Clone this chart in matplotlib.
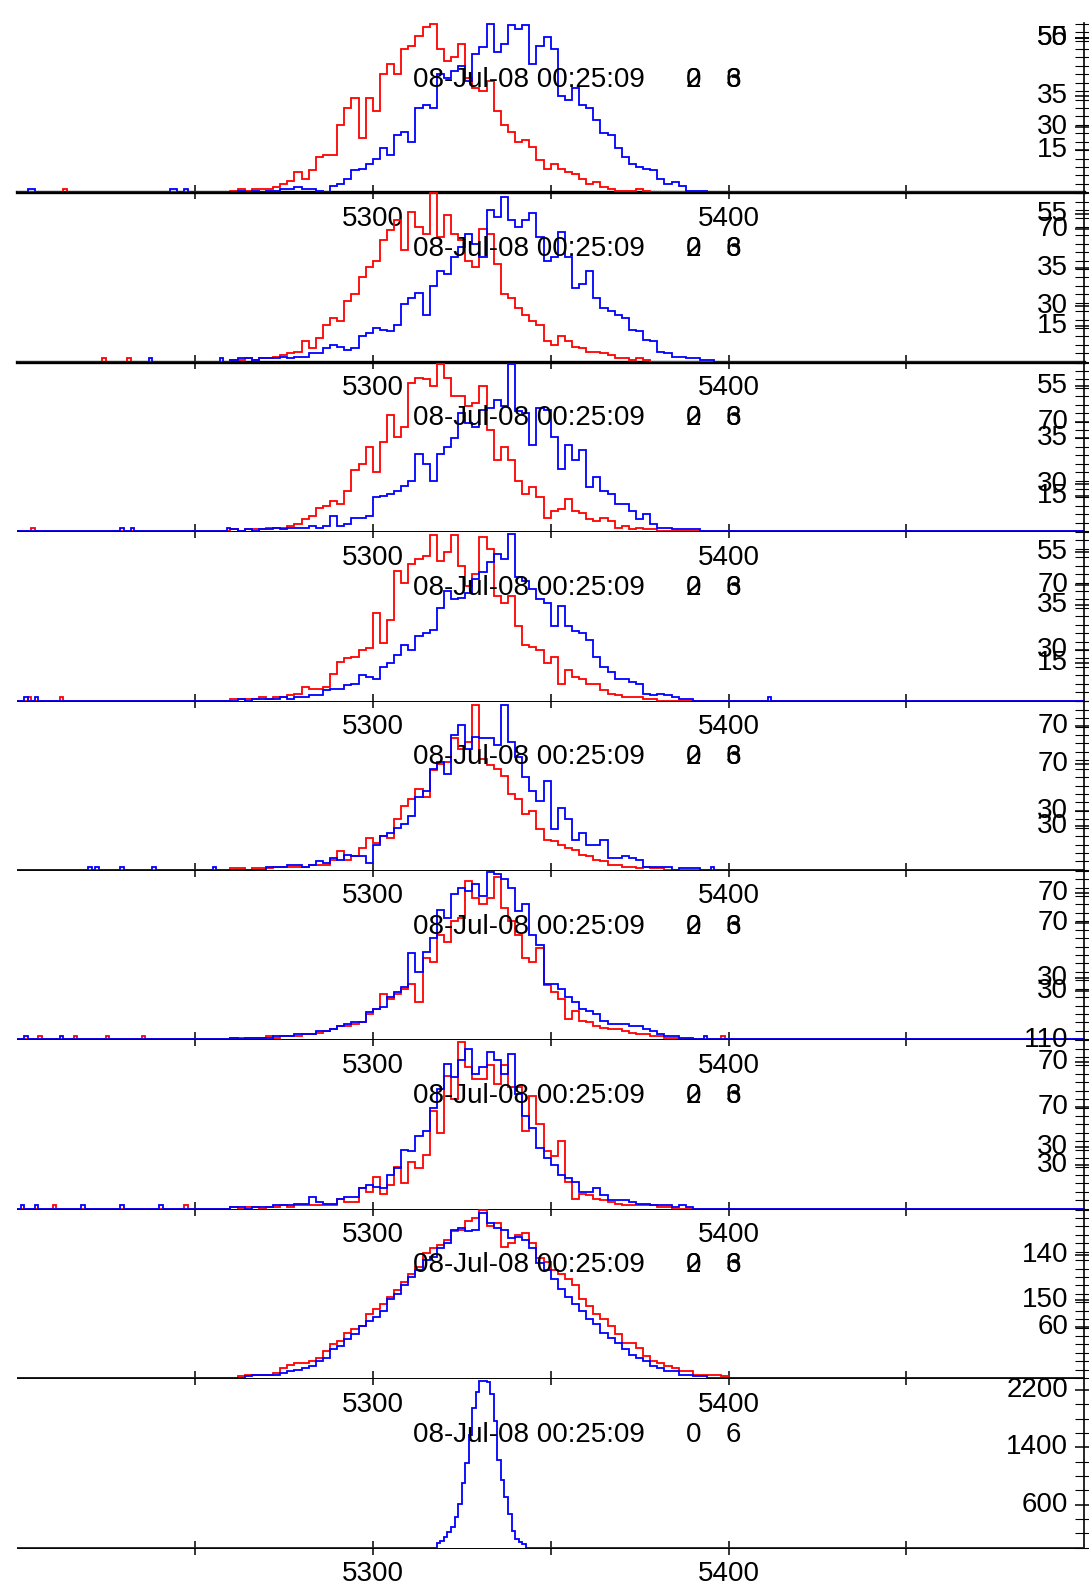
import numpy as np
import matplotlib
matplotlib.use("Agg")
from matplotlib import pyplot as plt
from matplotlib.ticker import MultipleLocator

plt.rcParams['font.family'] = ['Liberation Sans', 'DejaVu Sans']

# x range of every panel and bin layout of the histograms
x_min, x_max = 5200, 5500
main_start = 5260      # first bin of the main histogram arrays
main_width = 2         # width of the main bins
x_ticks = [5250, 5300, 5350, 5400, 5450]
x_tick_labels = ['', '5300', '', '5400', '']

stamp = "08-Jul-08 00:25:09"
stamp_a = "0"
stamp_b = "6"

# panels 1-8 (counts on a 0..100 scale), 2-unit bins starting at 5260
red_1 = [1, 2, 1, 2, 2, 2, 3, 5, 7, 12, 8, 13, 21, 22, 22, 40, 50, 56, 32, 56, 48, 70, 76, 70, 85, 87, 93, 98,
         100, 85, 78, 80, 88, 68, 62, 60, 66, 48, 40, 36, 30, 31, 27, 19, 14, 17, 14, 12, 11, 8, 5, 6, 3, 2, 1,
         1, 1, 2, 1]
blue_1 = [0, 1, 0, 1, 0, 1, 1, 2, 2, 3, 2, 2, 1, 0, 4, 5, 8, 13, 14, 17, 20, 26, 22, 34, 36, 30, 50, 52, 50, 70,
          68, 72, 75, 66, 82, 86, 100, 83, 88, 99, 97, 99, 76, 87, 92, 85, 57, 55, 62, 52, 50, 43, 35, 34, 26,
          21, 17, 15, 14, 13, 8, 5, 6, 4, 1, 1, 1]
red_2 = [1, 1, 2, 1, 2, 2, 3, 4, 5, 6, 12, 8, 14, 22, 26, 24, 36, 40, 50, 56, 60, 72, 78, 84, 66, 89, 80, 76, 100,
         74, 87, 76, 72, 60, 56, 79, 76, 58, 40, 38, 32, 28, 24, 22, 12, 10, 15, 12, 9, 8, 6, 6, 5, 4, 2, 2, 1,
         2, 1]
blue_2 = [1, 2, 2, 1, 2, 2, 2, 3, 2, 3, 3, 5, 5, 8, 10, 9, 7, 8, 15, 17, 20, 19, 18, 22, 34, 38, 41, 28, 45, 54,
          52, 62, 68, 76, 70, 62, 90, 86, 98, 84, 80, 84, 88, 74, 60, 62, 77, 62, 44, 46, 54, 38, 32, 30, 28, 26,
          19, 18, 13, 12, 6, 5, 3, 3, 2, 2, 1, 1]
red_3 = [1, 0, 1, 1, 1, 2, 2, 2, 3, 4, 7, 9, 14, 15, 18, 16, 24, 36, 40, 50, 35, 53, 69, 56, 62, 88, 91, 90, 86,
         99, 91, 80, 80, 74, 76, 86, 60, 42, 50, 42, 30, 22, 26, 20, 8, 12, 13, 19, 12, 11, 7, 6, 8, 6, 2, 3, 1,
         2, 1, 1]
blue_3 = [1, 0, 1, 0, 1, 1, 2, 1, 2, 2, 2, 3, 2, 3, 9, 3, 4, 8, 8, 9, 20, 21, 22, 24, 27, 30, 46, 40, 30, 46, 50,
          55, 70, 64, 62, 72, 73, 78, 74, 99, 71, 70, 51, 73, 72, 56, 37, 51, 42, 48, 26, 32, 24, 22, 16, 16, 12,
          7, 10, 4, 2, 2, 1, 1, 1, 1]
red_4 = [1, 1, 1, 1, 2, 1, 2, 2, 3, 4, 8, 7, 7, 8, 16, 23, 25, 26, 30, 31, 52, 34, 48, 77, 70, 81, 84, 86, 98, 83,
         88, 98, 80, 68, 75, 97, 90, 62, 58, 62, 44, 33, 32, 30, 22, 26, 10, 18, 14, 13, 10, 10, 6, 4, 3, 2, 2,
         2, 1, 1]
blue_4 = [0, 1, 0, 1, 1, 1, 1, 2, 1, 2, 2, 3, 3, 6, 7, 7, 9, 10, 15, 14, 13, 20, 22, 27, 33, 30, 38, 40, 42, 55,
          65, 60, 61, 64, 72, 76, 82, 87, 84, 99, 73, 71, 66, 60, 58, 44, 56, 44, 41, 40, 36, 26, 20, 17, 13, 13,
          11, 10, 4, 3, 4, 3, 2, 1, 1]
red_5 = [1, 1, 0, 1, 1, 1, 2, 2, 2, 2, 2, 3, 3, 3, 6, 11, 6, 8, 13, 19, 16, 20, 19, 30, 38, 42, 48, 43, 59, 63,
         64, 78, 72, 76, 98, 66, 62, 60, 56, 45, 42, 33, 35, 24, 18, 17, 15, 13, 12, 9, 8, 6, 5, 3, 3, 2, 2, 1,
         2, 1, 1]
blue_5 = [0, 0, 0, 0, 0, 2, 2, 2, 3, 3, 2, 3, 5, 4, 7, 6, 9, 8, 8, 4, 15, 20, 22, 25, 27, 32, 43, 47, 60, 64, 57,
          80, 86, 72, 79, 78, 78, 74, 98, 76, 67, 55, 47, 41, 53, 24, 37, 30, 18, 22, 15, 15, 18, 7, 7, 8, 7, 6,
          2, 2, 2, 2, 0, 1, 1, 1]
red_6 = [1, 1, 1, 1, 1, 2, 1, 2, 2, 2, 3, 3, 4, 5, 6, 8, 8, 9, 10, 15, 18, 27, 24, 27, 30, 33, 22, 48, 46, 62,
         58, 70, 72, 94, 84, 80, 84, 96, 78, 70, 62, 48, 46, 54, 32, 28, 24, 12, 17, 11, 10, 8, 7, 6, 6, 5, 4,
         3, 3, 2, 2, 1, 1]
blue_6 = [1, 0, 1, 1, 1, 1, 2, 2, 2, 3, 3, 3, 5, 5, 6, 8, 9, 10, 10, 16, 18, 19, 25, 28, 31, 51, 40, 52, 60, 77,
          72, 86, 90, 88, 92, 85, 99, 98, 95, 90, 76, 80, 62, 56, 33, 33, 30, 25, 22, 18, 17, 15, 11, 9, 9, 9, 8,
          8, 6, 5, 3, 2, 2, 1, 1]
red_7 = [1, 0, 1, 1, 0, 1, 1, 2, 1, 2, 2, 2, 2, 2, 2, 6, 4, 4, 12, 10, 19, 9, 14, 25, 15, 28, 24, 32, 58, 45, 79,
         65, 99, 84, 77, 77, 85, 74, 85, 72, 72, 46, 67, 50, 34, 31, 40, 16, 6, 9, 8, 6, 5, 4, 3, 2, 2, 2, 2, 2,
         1, 1]
blue_7 = [1, 1, 0, 1, 1, 1, 2, 2, 2, 3, 3, 7, 4, 3, 3, 6, 7, 7, 12, 14, 13, 12, 20, 24, 35, 34, 43, 46, 60, 71,
          86, 78, 88, 95, 80, 84, 93, 88, 80, 92, 68, 55, 48, 36, 30, 26, 20, 18, 16, 10, 10, 12, 8, 5, 5, 5, 4,
          3, 3, 2, 2, 2, 1, 2, 1]
red_8 = [0, 1, 2, 2, 2, 2, 3, 6, 8, 9, 9, 10, 12, 16, 20, 22, 27, 29, 31, 38, 41, 44, 48, 52, 57, 62, 66, 74, 77,
         79, 82, 87, 88, 93, 95, 100, 90, 92, 78, 80, 85, 86, 80, 71, 69, 64, 62, 59, 55, 47, 43, 38, 35, 31,
         26, 21, 21, 18, 13, 10, 9, 7, 6, 4, 4, 2, 2, 2, 2, 1]
blue_8 = [0, 0, 1, 2, 2, 2, 2, 3, 4, 5, 6, 7, 10, 12, 17, 19, 23, 26, 31, 34, 36, 40, 47, 50, 55, 60, 64, 70, 72,
          77, 80, 88, 89, 87, 88, 98, 92, 89, 88, 83, 84, 82, 77, 68, 64, 59, 53, 48, 44, 40, 35, 32, 27, 24,
          21, 17, 14, 12, 10, 7, 6, 4, 4, 2, 2, 1, 1]

# bottom panel: real counts, 1-unit bins starting at 5318
p9_start = 5318
red_9 = []
blue_9 = [57, 94, 148, 212, 283, 424, 612, 895, 1178, 1578, 1955, 2167, 2331, 2331, 2308, 2143, 1766, 1225, 942,
          707, 471, 236, 118, 71, 47]

# single stray counts (1-unit bins) far out in the tails
red_strays = [[5213], [5224, 5231], [5204], [5203, 5212], [], [5206, 5216, 5225, 5235, 5398], [5210, 5247], [], []]
blue_strays = [[5203, 5204, 5243, 5244, 5247], [5237, 5257], [5229, 5232, 5259], [5202, 5205, 5411],
               [5220, 5222, 5229, 5238, 5255, 5395], [5202, 5212, 5393], [5201, 5205, 5218, 5229, 5240], [], []]
stray_count = 2

red_all = [red_1, red_2, red_3, red_4, red_5, red_6, red_7, red_8, red_9]
blue_all = [blue_1, blue_2, blue_3, blue_4, blue_5, blue_6, blue_7, blue_8, blue_9]
y_tops = [100, 100, 100, 100, 100, 100, 100, 100, 2355]

# right-hand tick labels as printed (two scales overprint each other)
right_labels = [
    [("50", 91.8), ("55", 91.8), ("35", 57.4), ("30", 38.7), ("15", 24.9)],
    [("55", 87.4), ("70", 78.5), ("35", 55.8), ("30", 33.3), ("15", 21.4)],
    [("55", 85.8), ("70", 64.8), ("35", 55.3), ("30", 27.7), ("15", 20.8)],
    [("55", 88.2), ("70", 68.5), ("35", 56.7), ("30", 30.2), ("15", 22.3)],
    [("70", 85.2), ("70", 62.6), ("30", 35.1), ("30", 26.2)],
    [("70", 86.6), ("70", 68.9), ("30", 36.4), ("30", 28.6)],
    [("110", 99.8), ("70", 87.0), ("70", 60.4), ("30", 36.8), ("30", 26.0)],
    [("140", 73.3), ("150", 46.3), ("60", 30.4)],
    [("2200", 2200), ("1400", 1400), ("600", 600)],
]
minor_steps = [5, 5, 5, 5, 5, 5, 5, 5, 200]


def to_grid(main, start, width, strays):
    v = np.zeros(x_max - x_min)
    if len(main):
        rep = np.repeat(main, width)
        i0 = start - x_min
        v[i0:i0 + len(rep)] = rep
    for s in strays:
        v[s - x_min] += stray_count
    return v


W, H = 1089, 1587
fig = plt.figure(figsize=(W / 100, H / 100), dpi=100)

left_px, right_px = 17, 1084.3
first_base, panel_h = 192.3, 169.4
edges = np.arange(x_min, x_max + 1, 1)

for i in range(9):
    base = first_base + panel_h * i
    ax = fig.add_axes([left_px / W, (H - base) / H, (right_px - left_px) / W, panel_h / H])
    ax.patch.set_alpha(0)

    if i < 8:
        r = to_grid(red_all[i], main_start, main_width, red_strays[i])
        b = to_grid(blue_all[i], main_start, main_width, blue_strays[i])
    else:
        r = to_grid(red_all[i], p9_start, 1, red_strays[i])
        b = to_grid(blue_all[i], p9_start, 1, blue_strays[i])

    if r.any():
        ax.stairs(r, edges, color='#ff0000', linewidth=1.3, zorder=3)
    ax.stairs(b, edges, color='#0000ff', linewidth=1.3, zorder=4)

    ax.set_xlim(x_min, x_max)
    ax.set_ylim(0, y_tops[i] * 1.005)

    for side in ['top', 'left']:
        ax.spines[side].set_visible(False)
    ax.spines['bottom'].set_linewidth(2.4 if i < 2 else 0.7)
    ax.spines['right'].set_linewidth(1.2)

    ax.set_xticks(x_ticks)
    ax.set_xticklabels(x_tick_labels)
    ax.tick_params(axis='x', direction='inout', length=9.5, width=1.1, pad=5, labelsize=20)

    ax.yaxis.tick_right()
    ax.set_yticks([v for _, v in right_labels[i]])
    ax.set_yticklabels([])
    ax.yaxis.set_minor_locator(MultipleLocator(minor_steps[i]))
    ax.tick_params(axis='y', which='major', direction='inout', length=13, width=1.1, labelright=False)
    ax.tick_params(axis='y', which='minor', direction='inout', length=13, width=0.8)

    for lab, v in right_labels[i]:
        ax.text(1 - 16 / (right_px - left_px), v, lab, ha='right', va='center', fontsize=20,
                transform=ax.get_yaxis_transform(), zorder=5)

    tr = ax.get_xaxis_transform()
    ax.text(5311.2, 0.665, stamp, ha='left', va='center', fontsize=20, transform=tr, zorder=5)
    if i < 8:
        # an older frame is printed on the same spot
        ax.text(5390.2, 0.665, "2", ha='center', va='center', fontsize=20, transform=tr, zorder=5)
        ax.text(5401.4, 0.665, "3", ha='center', va='center', fontsize=20, transform=tr, zorder=5)
    ax.text(5390.2, 0.665, stamp_a, ha='center', va='center', fontsize=20, transform=tr, zorder=5)
    ax.text(5401.4, 0.665, stamp_b, ha='center', va='center', fontsize=20, transform=tr, zorder=5)

fig.savefig("out.png", dpi=100)
